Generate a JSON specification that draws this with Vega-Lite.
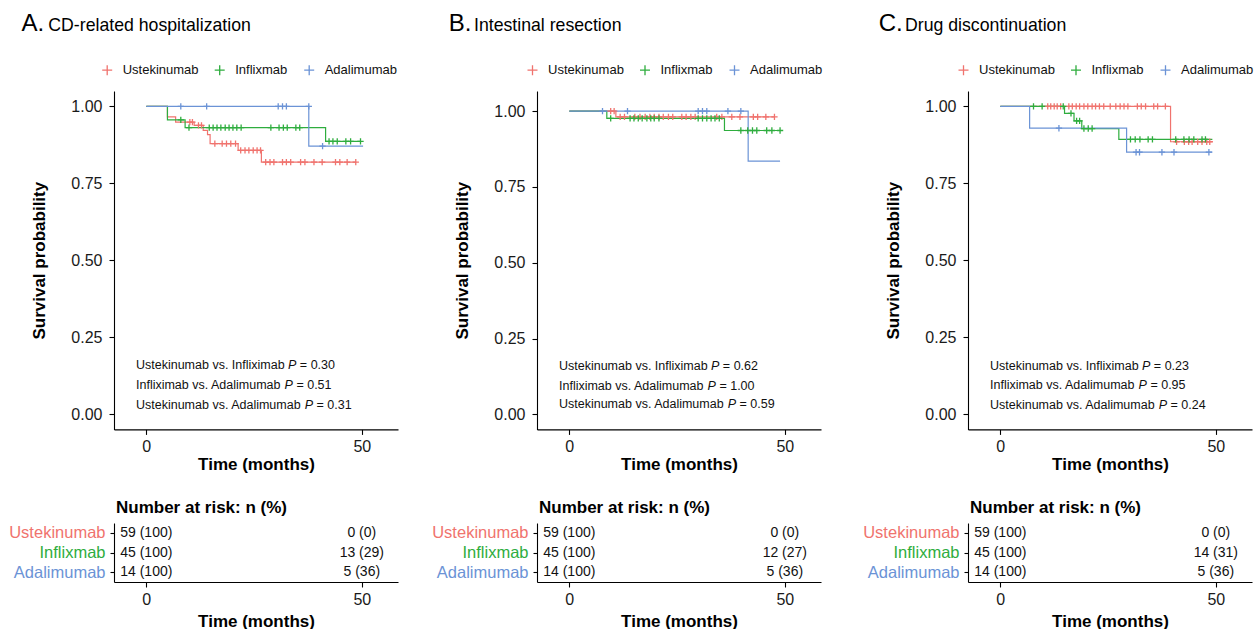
{
"$schema": "https://vega.github.io/schema/vega-lite/v6.json",
"background": "white",
"padding": {"left": 8, "top": 11, "right": 0, "bottom": 0},
"config": {
  "font": "Liberation Sans",
  "view": {"stroke": null},
  "axis": {"grid": false, "domainColor": "#000", "domainWidth": 1.1, "tickColor": "#000", "tickWidth": 1.1, "tickSize": 5, "labelColor": "#1a1a1a", "labelFontSize": 16, "titleFontSize": 17, "titleFontWeight": "bold", "titleColor": "#000", "labelPadding": 4},
  "axisX": {"titlePadding": 2},
  "axisY": {"titlePadding": 22},
  "title": {"color": "#000", "fontWeight": "normal"}
},
"datasets": {
  "curves": [
    {"p":"A","g":"Ustekinumab","t":0,"s":1},{"p":"A","g":"Ustekinumab","t":4.9,"s":0.966},{"p":"A","g":"Ustekinumab","t":6.8,"s":0.949},{"p":"A","g":"Ustekinumab","t":11.1,"s":0.938},{"p":"A","g":"Ustekinumab","t":13.2,"s":0.922},{"p":"A","g":"Ustekinumab","t":14.2,"s":0.908},{"p":"A","g":"Ustekinumab","t":14.8,"s":0.879},{"p":"A","g":"Ustekinumab","t":21.3,"s":0.857},{"p":"A","g":"Ustekinumab","t":26.7,"s":0.819},{"p":"A","g":"Ustekinumab","t":48.6,"s":0.819},
    {"p":"A","g":"Inflixmab","t":0,"s":1},{"p":"A","g":"Inflixmab","t":4.9,"s":0.956},{"p":"A","g":"Inflixmab","t":9.0,"s":0.931},{"p":"A","g":"Inflixmab","t":41.6,"s":0.886},{"p":"A","g":"Inflixmab","t":49.7,"s":0.886},
    {"p":"A","g":"Adalimumab","t":0,"s":1},{"p":"A","g":"Adalimumab","t":37.7,"s":0.871},{"p":"A","g":"Adalimumab","t":50.3,"s":0.871},
    {"p":"B","g":"Ustekinumab","t":0,"s":1},{"p":"B","g":"Ustekinumab","t":10.8,"s":0.981},{"p":"B","g":"Ustekinumab","t":47.6,"s":0.981},
    {"p":"B","g":"Inflixmab","t":0,"s":1},{"p":"B","g":"Inflixmab","t":8.7,"s":0.976},{"p":"B","g":"Inflixmab","t":36.0,"s":0.936},{"p":"B","g":"Inflixmab","t":48.9,"s":0.936},
    {"p":"B","g":"Adalimumab","t":0,"s":1},{"p":"B","g":"Adalimumab","t":41.5,"s":0.835},{"p":"B","g":"Adalimumab","t":48.9,"s":0.835},
    {"p":"C","g":"Ustekinumab","t":0,"s":1},{"p":"C","g":"Ustekinumab","t":39.5,"s":0.885},{"p":"C","g":"Ustekinumab","t":49.2,"s":0.885},
    {"p":"C","g":"Inflixmab","t":0,"s":1},{"p":"C","g":"Inflixmab","t":14.9,"s":0.977},{"p":"C","g":"Inflixmab","t":17.1,"s":0.953},{"p":"C","g":"Inflixmab","t":18.9,"s":0.928},{"p":"C","g":"Inflixmab","t":27.5,"s":0.893},{"p":"C","g":"Inflixmab","t":49.2,"s":0.893},
    {"p":"C","g":"Adalimumab","t":0,"s":1},{"p":"C","g":"Adalimumab","t":6.8,"s":0.929},{"p":"C","g":"Adalimumab","t":29.3,"s":0.851},{"p":"C","g":"Adalimumab","t":49.2,"s":0.851}
  ],
  "cens": [
    {"p":"A","g":"Ustekinumab","t":10.1,"s":0.949},{"p":"A","g":"Ustekinumab","t":10.7,"s":0.949},{"p":"A","g":"Ustekinumab","t":12.1,"s":0.938},{"p":"A","g":"Ustekinumab","t":12.8,"s":0.938},
    {"p":"A","g":"Ustekinumab","t":15.9,"s":0.879},{"p":"A","g":"Ustekinumab","t":17.6,"s":0.879},{"p":"A","g":"Ustekinumab","t":18.6,"s":0.879},{"p":"A","g":"Ustekinumab","t":19.6,"s":0.879},{"p":"A","g":"Ustekinumab","t":20.7,"s":0.879},
    {"p":"A","g":"Ustekinumab","t":21.9,"s":0.857},{"p":"A","g":"Ustekinumab","t":22.9,"s":0.857},{"p":"A","g":"Ustekinumab","t":23.8,"s":0.857},{"p":"A","g":"Ustekinumab","t":24.8,"s":0.857},{"p":"A","g":"Ustekinumab","t":25.7,"s":0.857},{"p":"A","g":"Ustekinumab","t":26.5,"s":0.857},
    {"p":"A","g":"Ustekinumab","t":27.7,"s":0.819},{"p":"A","g":"Ustekinumab","t":28.7,"s":0.819},{"p":"A","g":"Ustekinumab","t":29.6,"s":0.819},{"p":"A","g":"Ustekinumab","t":31.6,"s":0.819},{"p":"A","g":"Ustekinumab","t":32.5,"s":0.819},{"p":"A","g":"Ustekinumab","t":33.5,"s":0.819},{"p":"A","g":"Ustekinumab","t":35.8,"s":0.819},{"p":"A","g":"Ustekinumab","t":36.8,"s":0.819},{"p":"A","g":"Ustekinumab","t":38.9,"s":0.819},{"p":"A","g":"Ustekinumab","t":40.8,"s":0.819},{"p":"A","g":"Ustekinumab","t":43.9,"s":0.819},{"p":"A","g":"Ustekinumab","t":44.9,"s":0.819},{"p":"A","g":"Ustekinumab","t":46.6,"s":0.819},{"p":"A","g":"Ustekinumab","t":48.6,"s":0.819},
    {"p":"A","g":"Inflixmab","t":8.0,"s":0.956},{"p":"A","g":"Inflixmab","t":9.9,"s":0.931},{"p":"A","g":"Inflixmab","t":14.6,"s":0.931},{"p":"A","g":"Inflixmab","t":15.5,"s":0.931},{"p":"A","g":"Inflixmab","t":16.4,"s":0.931},{"p":"A","g":"Inflixmab","t":17.3,"s":0.931},{"p":"A","g":"Inflixmab","t":18.3,"s":0.931},{"p":"A","g":"Inflixmab","t":19.2,"s":0.931},{"p":"A","g":"Inflixmab","t":20.1,"s":0.931},{"p":"A","g":"Inflixmab","t":21.0,"s":0.931},{"p":"A","g":"Inflixmab","t":22.0,"s":0.931},{"p":"A","g":"Inflixmab","t":28.9,"s":0.931},{"p":"A","g":"Inflixmab","t":30.8,"s":0.931},{"p":"A","g":"Inflixmab","t":31.8,"s":0.931},{"p":"A","g":"Inflixmab","t":32.7,"s":0.931},{"p":"A","g":"Inflixmab","t":34.7,"s":0.931},{"p":"A","g":"Inflixmab","t":35.6,"s":0.931},
    {"p":"A","g":"Inflixmab","t":42.4,"s":0.886},{"p":"A","g":"Inflixmab","t":43.3,"s":0.886},{"p":"A","g":"Inflixmab","t":44.3,"s":0.886},{"p":"A","g":"Inflixmab","t":46.3,"s":0.886},{"p":"A","g":"Inflixmab","t":47.4,"s":0.886},{"p":"A","g":"Inflixmab","t":49.7,"s":0.886},
    {"p":"A","g":"Adalimumab","t":8.0,"s":1},{"p":"A","g":"Adalimumab","t":14.0,"s":1},{"p":"A","g":"Adalimumab","t":30.6,"s":1},{"p":"A","g":"Adalimumab","t":31.6,"s":1},{"p":"A","g":"Adalimumab","t":32.5,"s":1},{"p":"A","g":"Adalimumab","t":37.7,"s":1},{"p":"A","g":"Adalimumab","t":40.9,"s":0.871},
    {"p":"B","g":"Ustekinumab","t":9.6,"s":1},{"p":"B","g":"Ustekinumab","t":10.4,"s":1},
    {"p":"B","g":"Ustekinumab","t":11.8,"s":0.981},{"p":"B","g":"Ustekinumab","t":12.8,"s":0.981},{"p":"B","g":"Ustekinumab","t":15.2,"s":0.981},{"p":"B","g":"Ustekinumab","t":16.4,"s":0.981},{"p":"B","g":"Ustekinumab","t":17.6,"s":0.981},{"p":"B","g":"Ustekinumab","t":18.7,"s":0.981},{"p":"B","g":"Ustekinumab","t":19.7,"s":0.981},{"p":"B","g":"Ustekinumab","t":20.8,"s":0.981},{"p":"B","g":"Ustekinumab","t":21.8,"s":0.981},{"p":"B","g":"Ustekinumab","t":23.0,"s":0.981},{"p":"B","g":"Ustekinumab","t":24.0,"s":0.981},{"p":"B","g":"Ustekinumab","t":26.1,"s":0.981},{"p":"B","g":"Ustekinumab","t":27.1,"s":0.981},{"p":"B","g":"Ustekinumab","t":28.2,"s":0.981},{"p":"B","g":"Ustekinumab","t":29.2,"s":0.981},{"p":"B","g":"Ustekinumab","t":34.2,"s":0.981},{"p":"B","g":"Ustekinumab","t":35.4,"s":0.981},{"p":"B","g":"Ustekinumab","t":37.7,"s":0.981},{"p":"B","g":"Ustekinumab","t":39.6,"s":0.981},{"p":"B","g":"Ustekinumab","t":42.7,"s":0.981},{"p":"B","g":"Ustekinumab","t":43.7,"s":0.981},{"p":"B","g":"Ustekinumab","t":45.6,"s":0.981},{"p":"B","g":"Ustekinumab","t":47.6,"s":0.981},
    {"p":"B","g":"Inflixmab","t":9.6,"s":0.976},{"p":"B","g":"Inflixmab","t":14.1,"s":0.976},{"p":"B","g":"Inflixmab","t":15.0,"s":0.976},{"p":"B","g":"Inflixmab","t":16.0,"s":0.976},{"p":"B","g":"Inflixmab","t":16.9,"s":0.976},{"p":"B","g":"Inflixmab","t":18.0,"s":0.976},{"p":"B","g":"Inflixmab","t":18.9,"s":0.976},{"p":"B","g":"Inflixmab","t":19.7,"s":0.976},{"p":"B","g":"Inflixmab","t":20.8,"s":0.976},{"p":"B","g":"Inflixmab","t":29.9,"s":0.976},{"p":"B","g":"Inflixmab","t":30.9,"s":0.976},{"p":"B","g":"Inflixmab","t":31.9,"s":0.976},{"p":"B","g":"Inflixmab","t":32.9,"s":0.976},{"p":"B","g":"Inflixmab","t":33.8,"s":0.976},{"p":"B","g":"Inflixmab","t":34.8,"s":0.976},
    {"p":"B","g":"Inflixmab","t":39.8,"s":0.936},{"p":"B","g":"Inflixmab","t":41.4,"s":0.936},{"p":"B","g":"Inflixmab","t":42.5,"s":0.936},{"p":"B","g":"Inflixmab","t":43.5,"s":0.936},{"p":"B","g":"Inflixmab","t":45.8,"s":0.936},{"p":"B","g":"Inflixmab","t":47.0,"s":0.936},{"p":"B","g":"Inflixmab","t":48.9,"s":0.936},
    {"p":"B","g":"Adalimumab","t":7.7,"s":1},{"p":"B","g":"Adalimumab","t":13.5,"s":1},{"p":"B","g":"Adalimumab","t":29.9,"s":1},{"p":"B","g":"Adalimumab","t":30.9,"s":1},{"p":"B","g":"Adalimumab","t":31.9,"s":1},{"p":"B","g":"Adalimumab","t":36.8,"s":1},{"p":"B","g":"Adalimumab","t":39.8,"s":1},
    {"p":"C","g":"Ustekinumab","t":11.0,"s":1},{"p":"C","g":"Ustekinumab","t":11.7,"s":1},{"p":"C","g":"Ustekinumab","t":12.5,"s":1},{"p":"C","g":"Ustekinumab","t":13.2,"s":1},{"p":"C","g":"Ustekinumab","t":14.0,"s":1},{"p":"C","g":"Ustekinumab","t":15.9,"s":1},{"p":"C","g":"Ustekinumab","t":16.7,"s":1},{"p":"C","g":"Ustekinumab","t":17.6,"s":1},{"p":"C","g":"Ustekinumab","t":18.4,"s":1},{"p":"C","g":"Ustekinumab","t":19.4,"s":1},{"p":"C","g":"Ustekinumab","t":20.3,"s":1},{"p":"C","g":"Ustekinumab","t":21.3,"s":1},{"p":"C","g":"Ustekinumab","t":22.1,"s":1},{"p":"C","g":"Ustekinumab","t":23.0,"s":1},{"p":"C","g":"Ustekinumab","t":24.0,"s":1},{"p":"C","g":"Ustekinumab","t":25.5,"s":1},{"p":"C","g":"Ustekinumab","t":26.8,"s":1},{"p":"C","g":"Ustekinumab","t":27.8,"s":1},{"p":"C","g":"Ustekinumab","t":28.7,"s":1},{"p":"C","g":"Ustekinumab","t":29.6,"s":1},{"p":"C","g":"Ustekinumab","t":31.8,"s":1},{"p":"C","g":"Ustekinumab","t":32.7,"s":1},{"p":"C","g":"Ustekinumab","t":33.7,"s":1},{"p":"C","g":"Ustekinumab","t":35.6,"s":1},{"p":"C","g":"Ustekinumab","t":36.5,"s":1},{"p":"C","g":"Ustekinumab","t":38.3,"s":1},
    {"p":"C","g":"Ustekinumab","t":40.9,"s":0.885},{"p":"C","g":"Ustekinumab","t":42.7,"s":0.885},{"p":"C","g":"Ustekinumab","t":43.7,"s":0.885},{"p":"C","g":"Ustekinumab","t":44.5,"s":0.885},{"p":"C","g":"Ustekinumab","t":45.8,"s":0.885},{"p":"C","g":"Ustekinumab","t":46.8,"s":0.885},{"p":"C","g":"Ustekinumab","t":47.9,"s":0.885},{"p":"C","g":"Ustekinumab","t":48.6,"s":0.885},
    {"p":"C","g":"Inflixmab","t":7.7,"s":1},{"p":"C","g":"Inflixmab","t":9.7,"s":1},{"p":"C","g":"Inflixmab","t":14.6,"s":1},{"p":"C","g":"Inflixmab","t":16.4,"s":0.977},{"p":"C","g":"Inflixmab","t":17.7,"s":0.953},{"p":"C","g":"Inflixmab","t":18.4,"s":0.953},{"p":"C","g":"Inflixmab","t":19.4,"s":0.928},{"p":"C","g":"Inflixmab","t":20.4,"s":0.928},{"p":"C","g":"Inflixmab","t":21.3,"s":0.928},
    {"p":"C","g":"Inflixmab","t":30.2,"s":0.893},{"p":"C","g":"Inflixmab","t":31.3,"s":0.893},{"p":"C","g":"Inflixmab","t":32.4,"s":0.893},{"p":"C","g":"Inflixmab","t":34.3,"s":0.893},{"p":"C","g":"Inflixmab","t":35.3,"s":0.893},{"p":"C","g":"Inflixmab","t":40.7,"s":0.893},{"p":"C","g":"Inflixmab","t":42.6,"s":0.893},{"p":"C","g":"Inflixmab","t":43.8,"s":0.893},{"p":"C","g":"Inflixmab","t":44.9,"s":0.893},{"p":"C","g":"Inflixmab","t":46.8,"s":0.893},{"p":"C","g":"Inflixmab","t":47.6,"s":0.893},
    {"p":"C","g":"Adalimumab","t":13.6,"s":0.929},{"p":"C","g":"Adalimumab","t":31.5,"s":0.851},{"p":"C","g":"Adalimumab","t":32.3,"s":0.851},{"p":"C","g":"Adalimumab","t":37.5,"s":0.851},{"p":"C","g":"Adalimumab","t":40.3,"s":0.851},{"p":"C","g":"Adalimumab","t":48.4,"s":0.851}
  ],
  "risk": [
    {"p":"A","g":"Ustekinumab","t":0,"n":"59 (100)"},{"p":"A","g":"Ustekinumab","t":50,"n":"0 (0)"},
    {"p":"A","g":"Inflixmab","t":0,"n":"45 (100)"},{"p":"A","g":"Inflixmab","t":50,"n":"13 (29)"},
    {"p":"A","g":"Adalimumab","t":0,"n":"14 (100)"},{"p":"A","g":"Adalimumab","t":50,"n":"5 (36)"},
    {"p":"B","g":"Ustekinumab","t":0,"n":"59 (100)"},{"p":"B","g":"Ustekinumab","t":50,"n":"0 (0)"},
    {"p":"B","g":"Inflixmab","t":0,"n":"45 (100)"},{"p":"B","g":"Inflixmab","t":50,"n":"12 (27)"},
    {"p":"B","g":"Adalimumab","t":0,"n":"14 (100)"},{"p":"B","g":"Adalimumab","t":50,"n":"5 (36)"},
    {"p":"C","g":"Ustekinumab","t":0,"n":"59 (100)"},{"p":"C","g":"Ustekinumab","t":50,"n":"0 (0)"},
    {"p":"C","g":"Inflixmab","t":0,"n":"45 (100)"},{"p":"C","g":"Inflixmab","t":50,"n":"14 (31)"},
    {"p":"C","g":"Adalimumab","t":0,"n":"14 (100)"},{"p":"C","g":"Adalimumab","t":50,"n":"5 (36)"}
  ],
  "notes": [
    {"p":"A","part":"lab","text":"Ustekinumab vs. Infliximab","t":-2.4,"s":0.160},{"p":"A","part":"P","text":"P","t":32.89,"s":0.160},{"p":"A","part":"val","text":"= 0.30","t":35.63,"s":0.160},
    {"p":"A","part":"lab","text":"Infliximab vs. Adalimumab","t":-2.4,"s":0.095},{"p":"A","part":"P","text":"P","t":32.09,"s":0.095},{"p":"A","part":"val","text":"= 0.51","t":34.83,"s":0.095},
    {"p":"A","part":"lab","text":"Ustekinumab vs. Adalimumab","t":-2.4,"s":0.030},{"p":"A","part":"P","text":"P","t":36.76,"s":0.030},{"p":"A","part":"val","text":"= 0.31","t":39.50,"s":0.030},
    {"p":"B","part":"lab","text":"Ustekinumab vs. Infliximab","t":-2.4,"s":0.158},{"p":"B","part":"P","text":"P","t":32.89,"s":0.158},{"p":"B","part":"val","text":"= 0.62","t":35.63,"s":0.158},
    {"p":"B","part":"lab","text":"Infliximab vs. Adalimumab","t":-2.4,"s":0.095},{"p":"B","part":"P","text":"P","t":32.09,"s":0.095},{"p":"B","part":"val","text":"= 1.00","t":34.83,"s":0.095},
    {"p":"B","part":"lab","text":"Ustekinumab vs. Adalimumab","t":-2.4,"s":0.033},{"p":"B","part":"P","text":"P","t":36.76,"s":0.033},{"p":"B","part":"val","text":"= 0.59","t":39.50,"s":0.033},
    {"p":"C","part":"lab","text":"Ustekinumab vs. Infliximab","t":-2.4,"s":0.155},{"p":"C","part":"P","text":"P","t":32.89,"s":0.155},{"p":"C","part":"val","text":"= 0.23","t":35.63,"s":0.155},
    {"p":"C","part":"lab","text":"Infliximab vs. Adalimumab","t":-2.4,"s":0.093},{"p":"C","part":"P","text":"P","t":32.09,"s":0.093},{"p":"C","part":"val","text":"= 0.95","t":34.83,"s":0.093},
    {"p":"C","part":"lab","text":"Ustekinumab vs. Adalimumab","t":-2.4,"s":0.030},{"p":"C","part":"P","text":"P","t":36.76,"s":0.030},{"p":"C","part":"val","text":"= 0.24","t":39.50,"s":0.030}
  ]
},
"resolve": {"scale": {"color": "independent"}, "legend": {"color": "independent"}},
"spacing": 39,
"hconcat": [
 {
  "resolve": {"scale": {"color": "independent"}, "legend": {"color": "independent"}},
  "spacing": 33,
  "hconcat": [
   {
    "title": {"text": "A.", "anchor": "start", "frame": "bounds", "dx": 12.7, "offset": -19, "fontSize": 24},
    "resolve": {"scale": {"color": "independent"}, "legend": {"color": "independent"}},
    "spacing": 26,
    "vconcat": [
     {
      "width": 284, "height": 338.4,
      "title": {"text": "CD-related hospitalization", "anchor": "start", "frame": "group", "dx": -65.7, "fontSize": 17.7, "offset": 29},
      "layer": [
       {"data": {"name": "curves"}, "transform": [{"filter": "datum.p === 'A'"}],
        "mark": {"type": "line", "interpolate": "step-after", "strokeWidth": 1.2},
        "encoding": {
          "x": {"field": "t", "type": "quantitative", "scale": {"domain": [-7.5, 58.4], "nice": false, "zero": false}, "axis": {"values": [0, 50], "title": "Time (months)"}},
          "y": {"field": "s", "type": "quantitative", "scale": {"domain": [-0.05, 1.05], "nice": false, "zero": false}, "axis": {"values": [0, 0.25, 0.5, 0.75, 1], "format": ".2f", "title": "Survival probability", "labelPadding": 7}},
          "color": {"field": "g", "type": "nominal", "scale": {"domain": ["Ustekinumab", "Inflixmab", "Adalimumab"], "range": ["#F0736E", "#2EAD3E", "#6B93D6"]},
            "legend": {"orient": "none", "legendX": -13.3, "legendY": -27.8, "direction": "horizontal", "title": null, "symbolType": "M-1,0L1,0M0,-1L0,1", "symbolSize": 100, "symbolStrokeWidth": 1.3, "symbolFillColor": "transparent", "labelFontSize": 13, "labelColor": "#111", "labelOffset": 9, "columnPadding": 12.5}}
        }},
       {"data": {"name": "cens"}, "transform": [{"filter": "datum.p === 'A'"}],
        "mark": {"type": "point", "shape": "M-1,0L1,0M0,-1L0,1", "filled": false, "size": 40, "strokeWidth": 1.3, "opacity": 1},
        "encoding": {
          "x": {"field": "t", "type": "quantitative"},
          "y": {"field": "s", "type": "quantitative"},
          "color": {"field": "g", "type": "nominal"}
        }},
       {"data": {"name": "notes"}, "transform": [{"filter": "datum.p === 'A' && datum.part !== 'P'"}],
        "mark": {"type": "text", "align": "left", "baseline": "middle", "fontSize": 12.5, "color": "#111"},
        "encoding": {"x": {"field": "t", "type": "quantitative"}, "y": {"field": "s", "type": "quantitative"}, "text": {"field": "text"}}},
       {"data": {"name": "notes"}, "transform": [{"filter": "datum.p === 'A' && datum.part === 'P'"}],
        "mark": {"type": "text", "align": "left", "baseline": "middle", "fontSize": 12.5, "fontStyle": "italic", "color": "#111"},
        "encoding": {"x": {"field": "t", "type": "quantitative"}, "y": {"field": "s", "type": "quantitative"}, "text": {"field": "text"}}}
      ]
     },
     {
      "width": 284, "height": 59,
      "title": {"text": "Number at risk: n (%)", "anchor": "start", "frame": "group", "dx": 2, "fontSize": 17, "fontWeight": "bold", "offset": 6},
      "data": {"name": "risk"}, "transform": [{"filter": "datum.p === 'A'"}],
      "mark": {"type": "text", "fontSize": 14, "color": "#111"},
      "encoding": {
        "x": {"field": "t", "type": "quantitative", "scale": {"domain": [-7.5, 58.4], "nice": false, "zero": false}, "axis": {"values": [0, 50], "title": "Time (months)", "titlePadding": 6}},
        "y": {"field": "g", "type": "nominal", "sort": ["Ustekinumab", "Inflixmab", "Adalimumab"], "scale": {"type": "point", "padding": 0.5}, "axis": {"title": null, "labelFontSize": 16.5, "tickSize": 4, "labelPadding": 5, "labelColor": {"condition": [{"test": "datum.value === 'Ustekinumab'", "value": "#F0736E"}, {"test": "datum.value === 'Inflixmab'", "value": "#2EAD3E"}], "value": "#6B93D6"}}},
        "text": {"field": "n"}
      }
     }
    ]
   },
   {
    "title": {"text": "B.", "anchor": "start", "frame": "bounds", "dx": 17, "offset": -19, "fontSize": 24},
    "resolve": {"scale": {"color": "independent"}, "legend": {"color": "independent"}},
    "spacing": 26,
    "vconcat": [
     {
      "width": 284, "height": 338.4,
      "title": {"text": "Intestinal resection", "anchor": "start", "frame": "group", "dx": -63, "fontSize": 17.7, "offset": 29},
      "layer": [
       {"data": {"name": "curves"}, "transform": [{"filter": "datum.p === 'B'"}],
        "mark": {"type": "line", "interpolate": "step-after", "strokeWidth": 1.2},
        "encoding": {
          "x": {"field": "t", "type": "quantitative", "scale": {"domain": [-7.5, 58.4], "nice": false, "zero": false}, "axis": {"values": [0, 50], "title": "Time (months)"}},
          "y": {"field": "s", "type": "quantitative", "scale": {"domain": [-0.0495, 1.0663], "nice": false, "zero": false}, "axis": {"values": [0, 0.25, 0.5, 0.75, 1], "format": ".2f", "title": "Survival probability", "labelPadding": 7}},
          "color": {"field": "g", "type": "nominal", "scale": {"domain": ["Ustekinumab", "Inflixmab", "Adalimumab"], "range": ["#F0736E", "#2EAD3E", "#6B93D6"]},
            "legend": {"orient": "none", "legendX": -11, "legendY": -27.8, "direction": "horizontal", "title": null, "symbolType": "M-1,0L1,0M0,-1L0,1", "symbolSize": 100, "symbolStrokeWidth": 1.3, "symbolFillColor": "transparent", "labelFontSize": 13, "labelColor": "#111", "labelOffset": 9, "columnPadding": 12.5}}
        }},
       {"data": {"name": "cens"}, "transform": [{"filter": "datum.p === 'B'"}],
        "mark": {"type": "point", "shape": "M-1,0L1,0M0,-1L0,1", "filled": false, "size": 40, "strokeWidth": 1.3, "opacity": 1},
        "encoding": {
          "x": {"field": "t", "type": "quantitative"},
          "y": {"field": "s", "type": "quantitative"},
          "color": {"field": "g", "type": "nominal"}
        }},
       {"data": {"name": "notes"}, "transform": [{"filter": "datum.p === 'B' && datum.part !== 'P'"}],
        "mark": {"type": "text", "align": "left", "baseline": "middle", "fontSize": 12.5, "color": "#111"},
        "encoding": {"x": {"field": "t", "type": "quantitative"}, "y": {"field": "s", "type": "quantitative"}, "text": {"field": "text"}}},
       {"data": {"name": "notes"}, "transform": [{"filter": "datum.p === 'B' && datum.part === 'P'"}],
        "mark": {"type": "text", "align": "left", "baseline": "middle", "fontSize": 12.5, "fontStyle": "italic", "color": "#111"},
        "encoding": {"x": {"field": "t", "type": "quantitative"}, "y": {"field": "s", "type": "quantitative"}, "text": {"field": "text"}}}
      ]
     },
     {
      "width": 284, "height": 59,
      "title": {"text": "Number at risk: n (%)", "anchor": "start", "frame": "group", "dx": 2, "fontSize": 17, "fontWeight": "bold", "offset": 6},
      "data": {"name": "risk"}, "transform": [{"filter": "datum.p === 'B'"}],
      "mark": {"type": "text", "fontSize": 14, "color": "#111"},
      "encoding": {
        "x": {"field": "t", "type": "quantitative", "scale": {"domain": [-7.5, 58.4], "nice": false, "zero": false}, "axis": {"values": [0, 50], "title": "Time (months)", "titlePadding": 6}},
        "y": {"field": "g", "type": "nominal", "sort": ["Ustekinumab", "Inflixmab", "Adalimumab"], "scale": {"type": "point", "padding": 0.5}, "axis": {"title": null, "labelFontSize": 16.5, "tickSize": 4, "labelPadding": 5, "labelColor": {"condition": [{"test": "datum.value === 'Ustekinumab'", "value": "#F0736E"}, {"test": "datum.value === 'Inflixmab'", "value": "#2EAD3E"}], "value": "#6B93D6"}}},
        "text": {"field": "n"}
      }
     }
    ]
   }
  ]
 },
 {
  "title": {"text": "C.", "anchor": "start", "frame": "bounds", "dx": 16, "offset": -19, "fontSize": 24},
  "resolve": {"scale": {"color": "independent"}, "legend": {"color": "independent"}},
  "spacing": 26,
  "vconcat": [
   {
    "width": 284, "height": 338.4,
    "title": {"text": "Drug discontinuation", "anchor": "start", "frame": "group", "dx": -63, "fontSize": 17.7, "offset": 29},
    "layer": [
     {"data": {"name": "curves"}, "transform": [{"filter": "datum.p === 'C'"}],
      "mark": {"type": "line", "interpolate": "step-after", "strokeWidth": 1.2},
      "encoding": {
        "x": {"field": "t", "type": "quantitative", "scale": {"domain": [-7.5, 58.4], "nice": false, "zero": false}, "axis": {"values": [0, 50], "title": "Time (months)"}},
        "y": {"field": "s", "type": "quantitative", "scale": {"domain": [-0.05, 1.05], "nice": false, "zero": false}, "axis": {"values": [0, 0.25, 0.5, 0.75, 1], "format": ".2f", "title": "Survival probability", "labelPadding": 7}},
        "color": {"field": "g", "type": "nominal", "scale": {"domain": ["Ustekinumab", "Inflixmab", "Adalimumab"], "range": ["#F0736E", "#2EAD3E", "#6B93D6"]},
          "legend": {"orient": "none", "legendX": -11, "legendY": -27.8, "direction": "horizontal", "title": null, "symbolType": "M-1,0L1,0M0,-1L0,1", "symbolSize": 100, "symbolStrokeWidth": 1.3, "symbolFillColor": "transparent", "labelFontSize": 13, "labelColor": "#111", "labelOffset": 9, "columnPadding": 12.5}}
      }},
     {"data": {"name": "cens"}, "transform": [{"filter": "datum.p === 'C'"}],
      "mark": {"type": "point", "shape": "M-1,0L1,0M0,-1L0,1", "filled": false, "size": 40, "strokeWidth": 1.3, "opacity": 1},
      "encoding": {
        "x": {"field": "t", "type": "quantitative"},
        "y": {"field": "s", "type": "quantitative"},
        "color": {"field": "g", "type": "nominal"}
      }},
     {"data": {"name": "notes"}, "transform": [{"filter": "datum.p === 'C' && datum.part !== 'P'"}],
      "mark": {"type": "text", "align": "left", "baseline": "middle", "fontSize": 12.5, "color": "#111"},
      "encoding": {"x": {"field": "t", "type": "quantitative"}, "y": {"field": "s", "type": "quantitative"}, "text": {"field": "text"}}},
     {"data": {"name": "notes"}, "transform": [{"filter": "datum.p === 'C' && datum.part === 'P'"}],
      "mark": {"type": "text", "align": "left", "baseline": "middle", "fontSize": 12.5, "fontStyle": "italic", "color": "#111"},
      "encoding": {"x": {"field": "t", "type": "quantitative"}, "y": {"field": "s", "type": "quantitative"}, "text": {"field": "text"}}}
    ]
   },
   {
    "width": 284, "height": 59,
    "title": {"text": "Number at risk: n (%)", "anchor": "start", "frame": "group", "dx": 2, "fontSize": 17, "fontWeight": "bold", "offset": 6},
    "data": {"name": "risk"}, "transform": [{"filter": "datum.p === 'C'"}],
    "mark": {"type": "text", "fontSize": 14, "color": "#111"},
    "encoding": {
      "x": {"field": "t", "type": "quantitative", "scale": {"domain": [-7.5, 58.4], "nice": false, "zero": false}, "axis": {"values": [0, 50], "title": "Time (months)", "titlePadding": 6}},
      "y": {"field": "g", "type": "nominal", "sort": ["Ustekinumab", "Inflixmab", "Adalimumab"], "scale": {"type": "point", "padding": 0.5}, "axis": {"title": null, "labelFontSize": 16.5, "tickSize": 4, "labelPadding": 5, "labelColor": {"condition": [{"test": "datum.value === 'Ustekinumab'", "value": "#F0736E"}, {"test": "datum.value === 'Inflixmab'", "value": "#2EAD3E"}], "value": "#6B93D6"}}},
      "text": {"field": "n"}
    }
   }
  ]
 }
]
}
